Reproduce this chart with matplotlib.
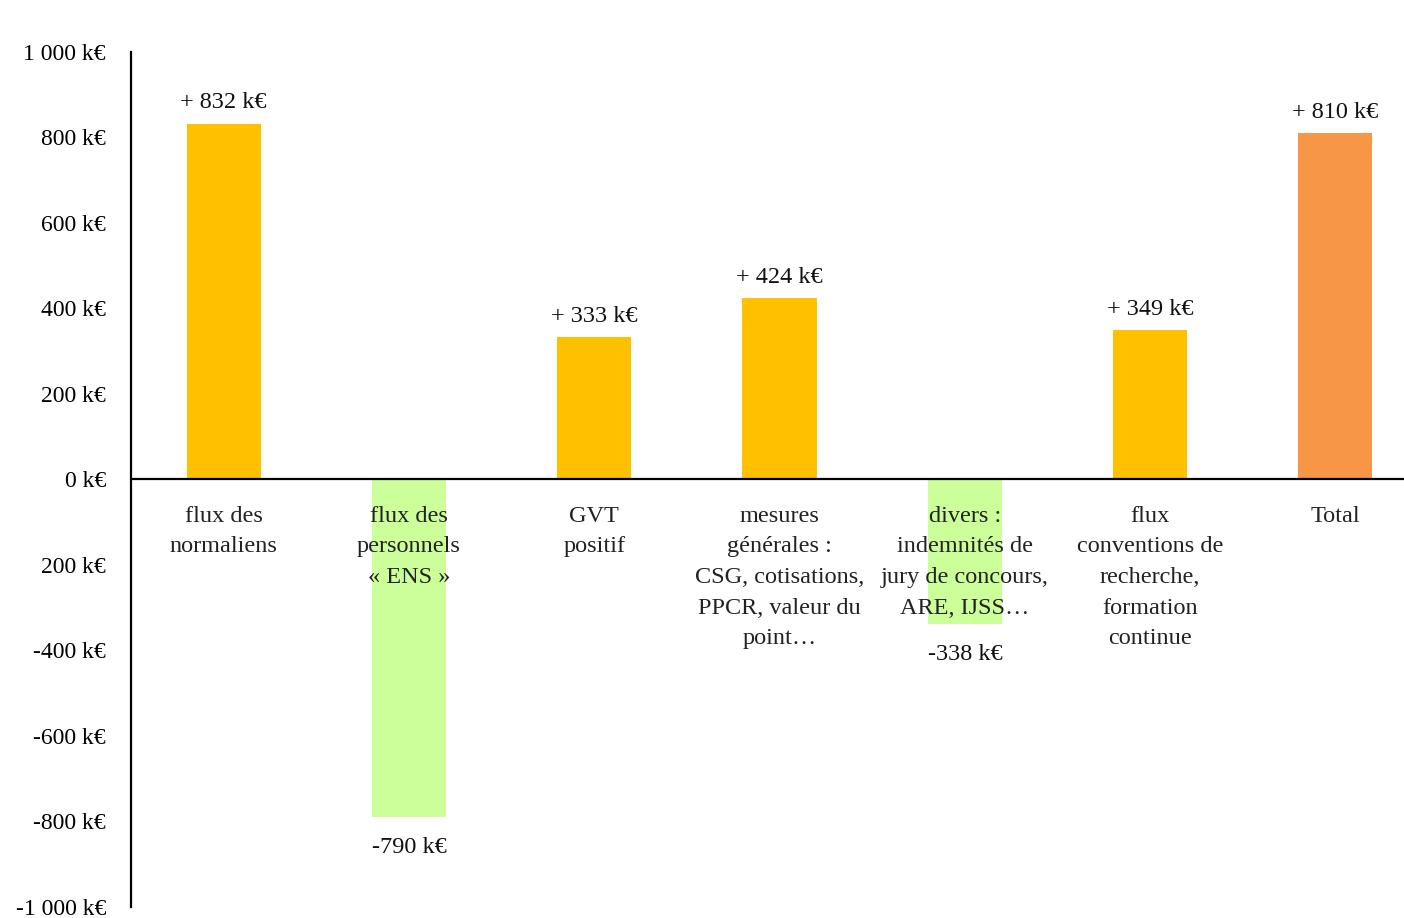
import matplotlib.pyplot as plt
from matplotlib.ticker import FixedLocator, FixedFormatter

# données (k€)
categories = [
    "flux des\nnormaliens",
    "flux des\npersonnels\n« ENS »",
    "GVT\npositif",
    "mesures\ngénérales :\nCSG, cotisations,\nPPCR, valeur du\npoint…",
    "divers :\nindemnités de\njury de concours,\nARE, IJSS…",
    "flux\nconventions de\nrecherche,\nformation\ncontinue",
    "Total",
]
values = [832, -790, 333, 424, -338, 349, 810]
value_labels = ["+ 832 k€", "-790 k€", "+ 333 k€", "+ 424 k€", "-338 k€", "+ 349 k€", "+ 810 k€"]
yticks = [1000, 800, 600, 400, 200, 0, -200, -400, -600, -800, -1000]
ytick_labels = ["1 000 k€", "800 k€", "600 k€", "400 k€", "200 k€", "0 k€",
                "200 k€", "-400 k€", "-600 k€", "-800 k€", "-1 000 k€"]

plt.rcParams["font.family"] = ["Liberation Serif", "DejaVu Serif"]

colors = []
for i, v in enumerate(values):
    if i == len(values) - 1:
        colors.append("#F79646")
    elif v >= 0:
        colors.append("#FFC000")
    else:
        colors.append("#CCFF99")

fig = plt.figure(figsize=(14.04, 9.18), dpi=100)
ax = fig.add_axes([0.0933, 0.012, 0.9067, 0.9314])

x = list(range(len(values)))
ax.bar(x, values, width=0.4, color=colors, zorder=2)

ax.set_xlim(-0.5, 6.37)
ax.set_ylim(-1000, 1000)

ax.yaxis.set_major_locator(FixedLocator(yticks))
ax.yaxis.set_major_formatter(FixedFormatter(ytick_labels))
ax.tick_params(axis="y", length=0, labelsize=17, pad=18)
ax.set_xticks([])

for s in ["top", "right", "bottom"]:
    ax.spines[s].set_visible(False)
ax.spines["left"].set_linewidth(1.6)
ax.axhline(0, color="black", linewidth=1.6, zorder=3)

# étiquettes de catégories sous l'axe
for xi, lab in zip(x, categories):
    ax.annotate(lab, (xi, 0), xytext=(0, -19), textcoords="offset points",
                ha="center", va="top", fontsize=17.5, linespacing=1.6,
                color="#222222", zorder=4)

# étiquettes de valeurs
for xi, v, lab in zip(x, values, value_labels):
    off = 15 if v >= 0 else -22
    ax.annotate(lab, (xi, v), xytext=(0, off), textcoords="offset points",
                ha="center", va="center", fontsize=17.5, color="#111111")

fig.savefig("out.png", dpi=100)
